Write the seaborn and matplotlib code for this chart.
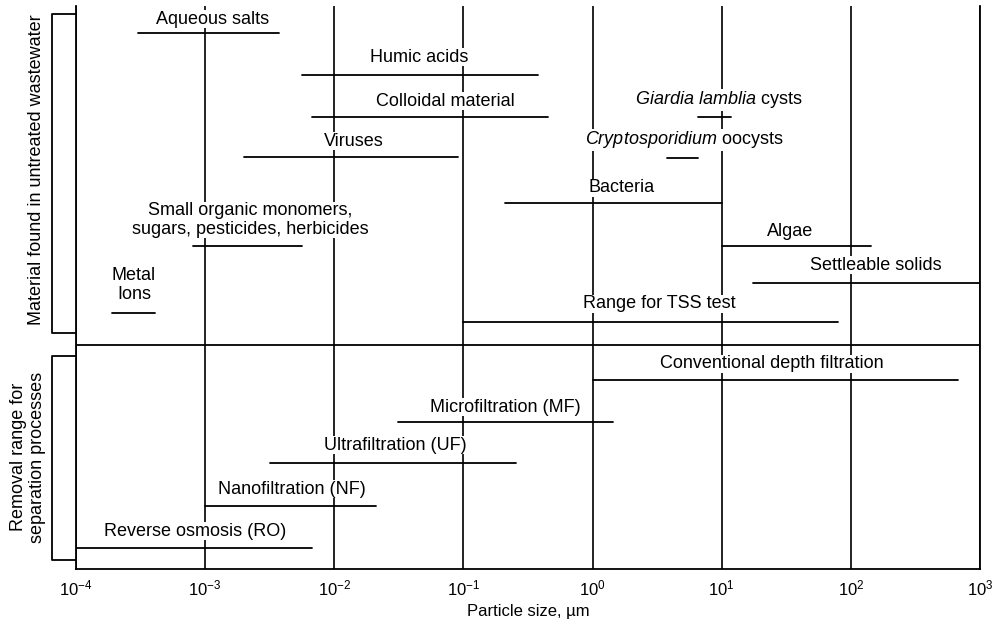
import numpy as np
import pandas as pd
import matplotlib
matplotlib.use("Agg")
import matplotlib.pyplot as plt
import matplotlib.transforms as mtransforms
import seaborn as sns

# --- data (particle size ranges in micrometres) ---
items = [
    "Aqueous salts", "Humic acids", "Colloidal material", "Viruses",
    "Giardia lamblia cysts", "Cryptosporidium oocysts", "Bacteria",
    "Small organic monomers", "Algae", "Settleable solids", "Metal ions",
    "Range for TSS test",
    "Conventional depth filtration", "Microfiltration (MF)",
    "Ultrafiltration (UF)", "Nanofiltration (NF)", "Reverse osmosis (RO)",
]
size_min = [3e-4, 5.6e-3, 6.7e-3, 2e-3, 6.6, 3.8, 0.21, 8.1e-4, 10, 17.5,
            1.9e-4, 0.1, 1.0, 0.031, 3.2e-3, 1e-3, 1e-4]
size_max = [3.7e-3, 0.38, 0.45, 0.09, 11.8, 6.6, 10, 5.6e-3, 142, 1000,
            4.1e-4, 79, 680, 1.44, 0.255, 0.021, 6.7e-3]

# layout: vertical row of each range line and where its label sits
row = [33, 75, 117, 157, 117, 158, 203, 246, 246, 283, 313, 322,
       380, 422, 463, 506, 548]
labels = [
    "Aqueous salts", "Humic acids", "Colloidal material", "Viruses",
    r"$\it{Giardia\ lamblia}$ cysts", r"$\it{Cryptosporidium}$ oocysts",
    "Bacteria", "Small organic monomers,\nsugars, pesticides, herbicides",
    "Algae", "Settleable solids", "Metal\nIons", "Range for TSS test",
    "Conventional depth filtration", "Microfiltration (MF)",
    "Ultrafiltration (UF)", "Nanofiltration (NF)", "Reverse osmosis (RO)",
]
label_x = [1.15e-3, 0.0453, 0.072, 0.0142, 9.5, 5.1, 1.69, 2.22e-3, 33.8,
           157, 2.81e-4, 3.27, 24.5, 0.21, 0.0295, 4.7e-3, 8.3e-4]
label_row = [19, 57, 101, 141, 100, 140, 188, 220, 232, 265, 285, 304,
             364, 407, 445, 489, 531]

decades = [1e-4, 1e-3, 1e-2, 1e-1, 1e0, 1e1, 1e2, 1e3]

sns.set_style("white")
plt.rcParams["font.family"] = ["Liberation Sans", "DejaVu Sans"]
plt.rcParams["mathtext.fontset"] = "custom"
plt.rcParams["mathtext.rm"] = "Liberation Sans"
plt.rcParams["mathtext.it"] = "Liberation Sans:italic"
plt.rcParams["text.color"] = "black"
plt.rcParams["axes.labelcolor"] = "black"
plt.rcParams["xtick.color"] = "black"

# long-form table: two points (start, end) per range
df = pd.DataFrame({
    "item": items * 2,
    "size": size_min + size_max,
    "row": row * 2,
})

fig = plt.figure(figsize=(10.04, 6.28), dpi=100)
ax = fig.add_axes([76 / 1004, 1 - 569 / 628, 904 / 1004, 563 / 628])
ax.set_xscale("log")
ax.set_xlim(1e-4, 1e3)
ax.set_ylim(569, 6)

sns.lineplot(data=df, x="size", y="row", units="item", estimator=None,
             sort=False, color="black", lw=1.3, legend=False, ax=ax,
             zorder=4)

# decade lines and the split between the two sections
ax.set_xticks(decades)
ax.xaxis.set_minor_locator(matplotlib.ticker.NullLocator())
ax.xaxis.grid(True, color="#111111", lw=1.3, zorder=0)
ax.set_axisbelow(True)
ax.axhline(345, color="black", lw=1.3, zorder=4)

for txt, lx, ly in zip(labels, label_x, label_row):
    ax.text(lx, ly, txt, ha="center", va="center", fontsize=13,
            linespacing=1.1, zorder=3,
            bbox=dict(facecolor="white", edgecolor="none", pad=0.3))

ax.set_yticks([])
ax.tick_params(axis="x", length=0, pad=7, labelsize=12, colors="black")
ax.set_xlabel("Particle size, µm", fontsize=12, labelpad=4)
ax.set_ylabel("")

for side in ["left", "right", "bottom"]:
    ax.spines[side].set_color("black")
    ax.spines[side].set_linewidth(1.3)
ax.spines["top"].set_visible(False)

# brackets on the left for the two sections
trans = mtransforms.blended_transform_factory(ax.transAxes, ax.transData)
bx = -24 / 904
for top, bottom in [(14, 333), (356, 560)]:
    ax.plot([0, bx, bx, 0], [top, top, bottom, bottom], color="black",
            lw=1.3, transform=trans, clip_on=False)

fig.text(37 / 1004, 1 - 170 / 628, "Material found in untreated wastewater",
         rotation=90, ha="center", va="center", fontsize=13)
fig.text(28 / 1004, 1 - 457 / 628, "Removal range for\nseparation processes",
         rotation=90, ha="center", va="center", fontsize=13, linespacing=1.1)

fig.savefig("out.png", dpi=100)
